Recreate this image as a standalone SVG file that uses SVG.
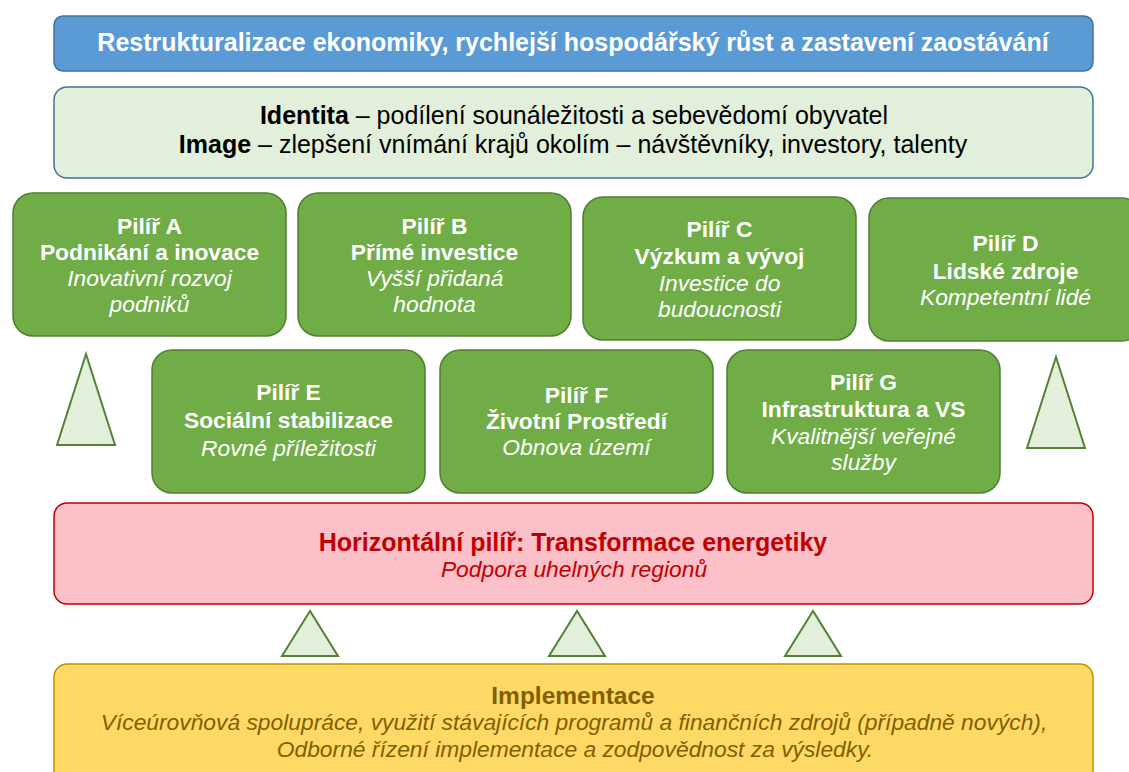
<svg xmlns="http://www.w3.org/2000/svg" width="1129" height="772" viewBox="0 0 1129 772">
<defs>
<style>
text{font-family:"Liberation Sans",Arial,sans-serif;text-anchor:middle}
.pil{fill:#70ad47;stroke:#507e32;stroke-width:1.5}
.pt{fill:#ffffff;font-size:22.8px}
.b{font-weight:bold}
.i{font-style:italic}
.tri{fill:#e2efda;stroke:#548235;stroke-width:2}
</style>
</defs>
<rect width="1129" height="772" fill="#ffffff"/>
<g id="goal">
<rect x="54" y="16" width="1039" height="55" rx="9" fill="#5b9bd5" stroke="#41719c" stroke-width="1.5"/>
<text x="573" y="51" fill="#ffffff" font-size="25" font-weight="bold">Restrukturalizace ekonomiky, rychlejší hospodářský růst a zastavení zaostávání</text>
</g>
<g id="identity">
<rect x="54" y="87" width="1039" height="91" rx="13" fill="#e2efda" stroke="#41719c" stroke-width="1.5"/>
<text x="574" y="124" fill="#000000" font-size="25"><tspan font-weight="bold">Identita</tspan> – podílení sounáležitosti a sebevědomí obyvatel</text>
<text x="573" y="153" fill="#000000" font-size="25"><tspan font-weight="bold">Image</tspan> – zlepšení vnímání krajů okolím – návštěvníky, investory, talenty</text>
</g>
<g id="pillarA">
<rect class="pil" x="13" y="193" width="273" height="143" rx="20"/>
<text class="pt b" x="149.5" y="234">Pilíř A</text>
<text class="pt b" x="149.5" y="260">Podnikání a inovace</text>
<text class="pt i" x="149.5" y="286">Inovativní rozvoj</text>
<text class="pt i" x="149.5" y="312">podniků</text>
</g>
<g id="pillarB">
<rect class="pil" x="298" y="193" width="273" height="143" rx="20"/>
<text class="pt b" x="434.5" y="234">Pilíř B</text>
<text class="pt b" x="434.5" y="260">Přímé investice</text>
<text class="pt i" x="434.5" y="286">Vyšší přidaná</text>
<text class="pt i" x="434.5" y="312">hodnota</text>
</g>
<g id="pillarC">
<rect class="pil" x="583" y="197" width="273" height="143" rx="20"/>
<text class="pt b" x="719.5" y="237">Pilíř C</text>
<text class="pt b" x="719.5" y="264">Výzkum a vývoj</text>
<text class="pt i" x="719.5" y="291">Investice do</text>
<text class="pt i" x="719.5" y="317">budoucnosti</text>
</g>
<g id="pillarD">
<rect class="pil" x="869" y="198" width="273" height="143" rx="20"/>
<text class="pt b" x="1005.5" y="251">Pilíř D</text>
<text class="pt b" x="1005.5" y="279">Lidské zdroje</text>
<text class="pt i" x="1005.5" y="305">Kompetentní lidé</text>
</g>
<g id="pillarE">
<rect class="pil" x="152" y="350" width="273" height="143" rx="20"/>
<text class="pt b" x="288.5" y="400">Pilíř E</text>
<text class="pt b" x="288.5" y="428">Sociální stabilizace</text>
<text class="pt i" x="288.5" y="456">Rovné příležitosti</text>
</g>
<g id="pillarF">
<rect class="pil" x="440" y="350" width="273" height="143" rx="20"/>
<text class="pt b" x="576.5" y="403">Pilíř F</text>
<text class="pt b" x="576.5" y="429">Životní Prostředí</text>
<text class="pt i" x="576.5" y="455">Obnova území</text>
</g>
<g id="pillarG">
<rect class="pil" x="727" y="350" width="273" height="143" rx="20"/>
<text class="pt b" x="863.5" y="390">Pilíř G</text>
<text class="pt b" x="863.5" y="417">Infrastruktura a VS</text>
<text class="pt i" x="863.5" y="444">Kvalitnější veřejné</text>
<text class="pt i" x="863.5" y="470">služby</text>
</g>
<g id="horizontal">
<rect x="54" y="503" width="1039" height="101" rx="13" fill="#fbc0c8" stroke="#c00000" stroke-width="1.5"/>
<text x="573" y="551" fill="#c00000" font-size="25" font-weight="bold">Horizontální pilíř: Transformace energetiky</text>
<text x="574" y="577" fill="#c00000" font-size="22.8" font-style="italic">Podpora uhelných regionů</text>
</g>
<g id="implementation">
<rect x="54" y="664" width="1039" height="120" rx="13" fill="#ffd966" stroke="#bf9000" stroke-width="1.5"/>
<text x="573" y="704" fill="#7f6000" font-size="24.5" font-weight="bold">Implementace</text>
<text x="574" y="730" fill="#7f6000" font-size="22.8" font-style="italic">Víceúrovňová spolupráce, využití stávajících programů a finančních zdrojů (případně nových),</text>
<text x="575" y="757" fill="#7f6000" font-size="22.8" font-style="italic">Odborné řízení implementace a zodpovědnost za výsledky.</text>
</g>
<g id="connectors">
<polygon class="tri" points="86,354 57,445 115,445"/>
<polygon class="tri" points="1056,357 1027,448 1085,448"/>
<polygon class="tri" points="310,611 282,656 338,656"/>
<polygon class="tri" points="577,611 549,656 605,656"/>
<polygon class="tri" points="813,611 785,656 841,656"/>
</g>
</svg>
